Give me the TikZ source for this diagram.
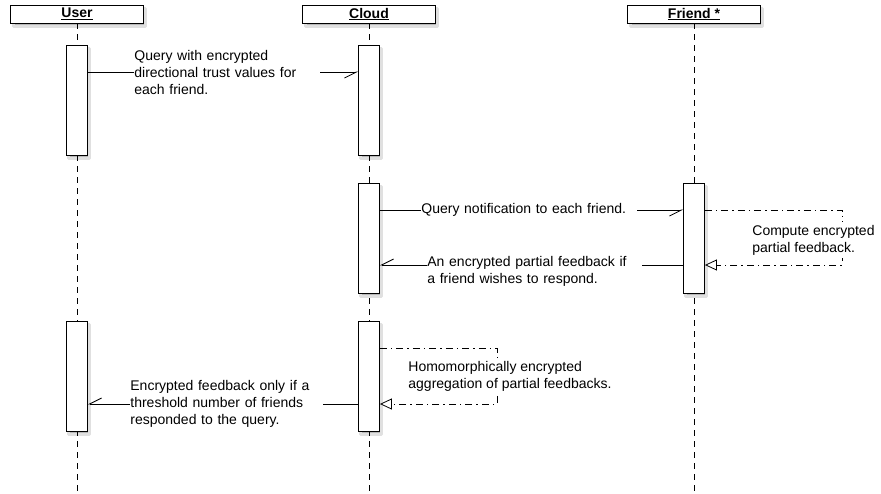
\documentclass[tikz,border=0pt]{standalone}
\usepackage{fontspec}
\setmainfont{Liberation Sans}
\usetikzlibrary{arrows.meta}

\tikzset{
  head/.style={draw, fill=white, minimum width=133pt, minimum height=18pt, inner sep=0pt,
    font=\fontsize{14}{17}\selectfont\bfseries},
  act/.style={draw, fill=white, minimum width=21pt, minimum height=110pt, inner sep=0pt, anchor=north},
  shade/.style={fill=black!28, draw=black!12, line width=3pt, line join=round},
  life/.style={dash pattern=on 6pt off 5pt},
  msg/.style={-{Straight Barb[harpoon,swap,length=12pt,width=12pt]}},
  selfmsg/.style={dash pattern=on 7pt off 4pt on 1.5pt off 4pt, -{Triangle[open,length=12pt,width=11pt]}},
  lbl/.style={fill=white, align=left, inner xsep=0pt, inner ysep=2pt, anchor=west}
}

\begin{document}
\begin{tikzpicture}[x=1pt,y=-1pt,line width=0.8pt,font=\fontsize{14}{17}\selectfont]
    \useasboundingbox (0,0) rectangle (881,493);

    \foreach \x in {77,369,694}
        \draw[shade] (\x-63.5,8) rectangle (\x+68.5,26);
    \foreach \x/\y in {77/45,369/45,369/183,694/183,77/321,369/321}
        \draw[shade] (\x-8.5,\y+3) rectangle (\x+12.5,\y+113);

    \coordinate (userend) at (77,493);
    \coordinate (cloudend) at (369,493);
    \coordinate (friendend) at (694,493);

    \node[head] (user) at (77,14) {\underline{User}};
    \node[head] (cloud) at (369,14) {\underline{Cloud}};
    \node[head] (friend) at (694,14) {\underline{Friend *}};

    \draw[life] (user.south) -- (userend);
    \draw[life] (cloud.south) -- (cloudend);
    \draw[life] (friend.south) -- (friendend);

    \node[act] (userA) at (77,45) {};
    \node[act] (cloudA) at (369,45) {};
    \node[act] (cloudB) at (369,183) {};
    \node[act] (friendA) at (694,183) {};
    \node[act] (userB) at (77,321) {};
    \node[act] (cloudC) at (369,321) {};

    \coordinate (fturn) at (842,238);
    \coordinate (cturn) at (497,376);

    \draw[msg] (userA.east |- 0,72) -- (cloudA.west |- 0,72);
    \node[lbl, text width=186pt] (m1) at (134,72) {Query with encrypted\\directional trust values for\\each friend.};

    \draw[msg] (cloudB.east |- 0,210) -- (friendA.west |- 0,210);
    \node[lbl, text width=216pt] (m2) at (421,210) {Query notification to each friend.};

    \draw[selfmsg] (friendA.east |- 0,210) -| (fturn) |- (friendA.east |- 0,265);
    \node[lbl, inner ysep=3pt] (m3) at (752,240) {Compute encrypted\\partial feedback.};

    \draw[msg] (friendA.west |- 0,265) -- (cloudB.east |- 0,265);
    \node[lbl, text width=215pt] (m4) at (427,271) {An encrypted partial feedback if\\a friend wishes to respond.};

    \draw[selfmsg] (cloudC.east |- 0,348) -| (cturn) |- (cloudC.east |- 0,404);
    \node[lbl, inner ysep=3pt] (m5) at (408,376) {Homomorphically encrypted\\aggregation of partial feedbacks.};

    \draw[msg] (cloudC.west |- 0,404) -- (userB.east |- 0,404);
    \node[lbl, text width=193pt] (m6) at (130,404) {Encrypted feedback only if a\\threshold number of friends\\responded to the query.};
\end{tikzpicture}
\end{document}
